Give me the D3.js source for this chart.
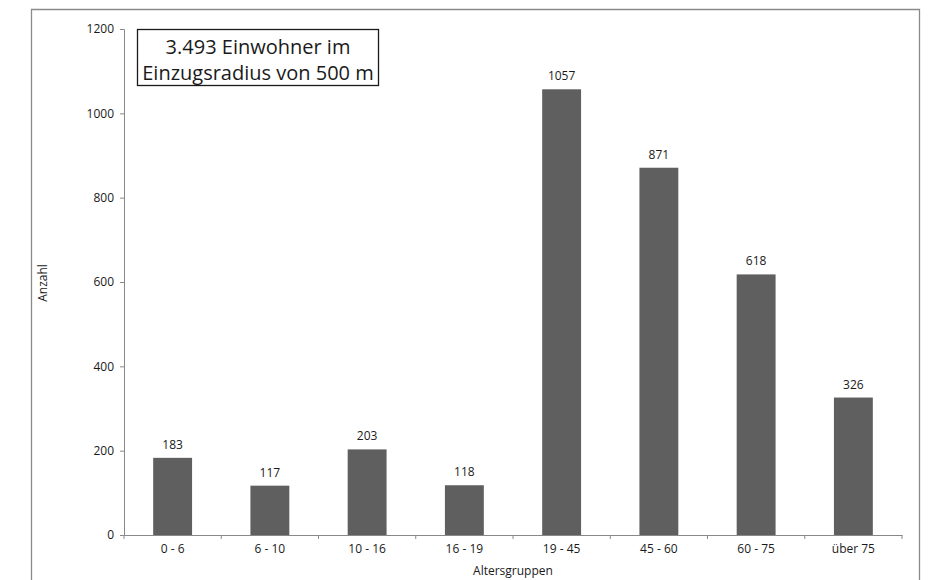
<!DOCTYPE html>
<html><head><meta charset="utf-8">
<script src="https://cdn.jsdelivr.net/npm/d3@7"></script>
<style>
body{margin:0;background:#fff;}
text{font-family:"Open Sans","Noto Sans",sans-serif;fill:#1a1a1a;}
</style></head>
<body>
<svg id="c" width="931" height="580"></svg>
<script>
const categories = ["0 - 6","6 - 10","10 - 16","16 - 19","19 - 45","45 - 60","60 - 75","über 75"];
const values = [183,117,203,118,1057,871,618,326];
const yTicks = [0,200,400,600,800,1000,1200];
const titleLines = ["3.493 Einwohner im","Einzugsradius von 500 m"];

const svg = d3.select("#c");
// outer frame
svg.append("path").attr("d","M31.5,600 V9.5 H919.5 V600")
  .attr("fill","none").attr("stroke","#8a8a8a").attr("stroke-width",1.3);

const x = d3.scaleBand().domain(categories).range([124,902]).paddingInner(0.6).paddingOuter(0.3);
const xb = d3.scaleBand().domain(categories).range([124,902]);
const y = d3.scaleLinear().domain([0,1200]).range([535,29]);

// y axis
const ya = svg.append("g").attr("transform","translate(124,0)")
  .call(d3.axisLeft(y).tickValues(yTicks).tickSize(4).tickPadding(6).tickFormat(d3.format("d")));
ya.select(".domain").attr("stroke","#888");
ya.selectAll(".tick line").attr("stroke","#888");
ya.selectAll("text").attr("font-size",12).style("fill","#1a1a1a");

// x axis
const xa = svg.append("g").attr("transform","translate(0,535)")
  .call(d3.axisBottom(xb).tickSize(0).tickPadding(9).tickSizeOuter(0));
xa.select(".domain").attr("stroke","#888");
xa.selectAll("text").attr("font-size",12).style("fill","#1a1a1a");
// category boundary ticks
const bounds = categories.map(c=>xb(c)).concat([xb(categories[categories.length-1])+xb.bandwidth()]);
svg.append("g").selectAll("line").data(bounds).join("line")
  .attr("x1",d=>d).attr("x2",d=>d).attr("y1",535).attr("y2",539)
  .attr("stroke","#888");

// bars
svg.append("g").selectAll("rect").data(values).join("rect")
  .attr("x",(d,i)=>x(categories[i])).attr("width",x.bandwidth())
  .attr("y",d=>y(d)).attr("height",d=>y(0)-y(d))
  .attr("fill","#5f5f5f");

// value labels
svg.append("g").selectAll("text").data(values).join("text")
  .attr("x",(d,i)=>x(categories[i])+x.bandwidth()/2)
  .attr("y",d=>y(d)-9)
  .attr("text-anchor","middle").attr("font-size",12)
  .text(d=>d);

// axis titles
svg.append("text").attr("x",513).attr("y",575).attr("text-anchor","middle")
  .attr("font-size",12).text("Altersgruppen");
svg.append("text").attr("transform","translate(47,283) rotate(-90)")
  .attr("text-anchor","middle").attr("font-size",12).text("Anzahl");

// title box
svg.append("rect").attr("x",137.5).attr("y",29.5).attr("width",241).attr("height",56)
  .attr("fill","#fff").attr("stroke","#1a1a1a").attr("stroke-width",1.3);
svg.append("g").selectAll("text").data(titleLines).join("text")
  .attr("x",258).attr("y",(d,i)=>54+i*26).attr("text-anchor","middle")
  .attr("font-size",20).text(d=>d);
</script>
</body></html>
